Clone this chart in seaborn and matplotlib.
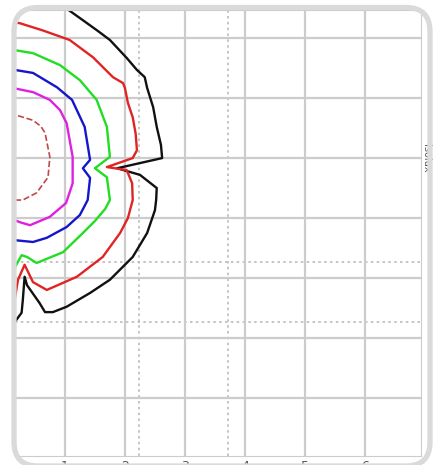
import matplotlib
matplotlib.use("Agg")
import matplotlib.pyplot as plt
import matplotlib.transforms as mtransforms
from matplotlib.patches import FancyBboxPatch
import seaborn as sns

# isolux contour traces (x, y in metres), outermost first
black_x = [0.95, 1.30, 1.55, 1.75, 2.03, 2.20, 2.33, 2.37, 2.47, 2.53, 2.60, 2.62, 1.87, 2.25, 2.53,
           2.52, 2.50, 2.37, 2.13, 1.75, 1.42, 1.03, 0.80, 0.67, 0.58, 0.37, 0.33, 0.30, 0.28, 0.17, 0.08]
black_y = [2.55, 2.30, 2.12, 1.97, 1.67, 1.47, 1.35, 1.17, 0.85, 0.52, 0.22, 0.00, -0.17, -0.28, -0.50,
           -0.70, -0.87, -1.25, -1.65, -2.03, -2.25, -2.48, -2.57, -2.57, -2.42, -2.12, -1.98, -2.37, -2.58, -2.73, -2.83]

red_x = [0.08, 0.25, 0.63, 1.08, 1.47, 1.80, 1.97, 2.00, 2.05, 2.13, 2.18, 2.20, 2.13, 1.70, 2.03,
         2.12, 2.13, 2.05, 1.92, 1.63, 1.20, 0.70, 0.47, 0.33, 0.22, 0.17, 0.12]
red_y = [2.27, 2.25, 2.13, 1.97, 1.68, 1.35, 1.25, 1.17, 0.92, 0.68, 0.40, 0.13, 0.00, -0.15, -0.20,
         -0.42, -0.70, -1.00, -1.25, -1.65, -1.98, -2.20, -2.07, -1.78, -2.03, -2.33, -2.45]

green_x = [0.08, 0.17, 0.47, 0.92, 1.25, 1.53, 1.70, 1.75, 1.50, 1.70, 1.75, 1.67, 1.50, 1.30, 0.97,
           0.53, 0.37, 0.28, 0.17, 0.08]
green_y = [1.80, 1.80, 1.75, 1.55, 1.30, 0.97, 0.52, 0.02, -0.17, -0.32, -0.70, -0.85, -1.05, -1.25, -1.57,
           -1.75, -1.65, -1.62, -1.82, -1.95]

blue_x = [0.08, 0.17, 0.47, 0.87, 1.12, 1.33, 1.42, 1.30, 1.42, 1.38, 1.25, 1.03, 0.70, 0.47, 0.17, 0.08]
blue_y = [1.47, 1.47, 1.42, 1.18, 0.97, 0.52, -0.03, -0.17, -0.33, -0.70, -0.95, -1.15, -1.33, -1.40, -1.37, -1.37]

magenta_x = [0.08, 0.47, 0.75, 0.92, 1.03, 1.13, 1.13, 1.02, 0.75, 0.42, 0.25, 0.08]
magenta_y = [1.18, 1.10, 0.97, 0.80, 0.58, 0.02, -0.42, -0.75, -0.98, -1.12, -1.07, -1.00]

inner_x = [0.08, 0.47, 0.60, 0.67, 0.75, 0.72, 0.53, 0.30, 0.08]
inner_y = [0.75, 0.63, 0.53, 0.42, 0.02, -0.32, -0.58, -0.70, -0.70]

x_ticks = [1, 2, 3, 4, 5, 6]
y_ticks = [-4, -3, -2, -1, 0, 1, 2]
dotted_x = [2.23, 3.72]
dotted_y = [-1.73, -2.73]

W, H = 442, 465
sns.set_style("whitegrid")
fig = plt.figure(figsize=(W / 100, H / 100), dpi=100)
fig.patch.set_facecolor("white")
ax = fig.add_axes([15 / W, 9 / H, 406 / W, 446 / H])

contours = [
    (black_x, black_y, "#111111", "-"),
    (red_x, red_y, "#e02424", "-"),
    (green_x, green_y, "#22dd22", "-"),
    (blue_x, blue_y, "#1515cc", "-"),
    (magenta_x, magenta_y, "#e020e0", "-"),
    (inner_x, inner_y, "#c04848", "--"),
]
for xs, ys, col, ls in contours:
    sns.lineplot(x=xs, y=ys, sort=False, estimator=None, color=col,
                 linestyle=ls, linewidth=1.7 if ls == "-" else 1.2, ax=ax)

for xv in dotted_x:
    ax.axvline(xv, color="#bbbbbb", linestyle=(0, (1.5, 2)), linewidth=1.2, zorder=0.5)
for yv in dotted_y:
    ax.axhline(yv, color="#bbbbbb", linestyle=(0, (1.5, 2)), linewidth=1.2, zorder=0.5)

ax.set_xlim(0.17, 6.93)
ax.set_ylim(-4.97, 2.47)
ax.set_xticks(x_ticks)
ax.set_yticks(y_ticks)
ax.set_xticklabels([str(t) for t in x_ticks])
ax.set_yticklabels([])
ax.tick_params(axis="x", length=0, pad=3, labelsize=9, labelcolor="#555555")
ax.tick_params(axis="y", length=0)
ax.grid(True, color="#cccccc", linewidth=1.6)
ax.set_axisbelow(True)
for sp in ax.spines.values():
    sp.set_color("#cccccc")
    sp.set_linewidth(0.8)

fig.text(426 / W, 1 - 158 / H, "Isolux", rotation=270, fontsize=7,
         color="#555555", ha="center", va="center")

# rounded frame around the whole picture, also used as a clip
frame = FancyBboxPatch((14, H - 466), 416, 458.5,
                       boxstyle="round,pad=0,rounding_size=24",
                       transform=mtransforms.IdentityTransform(),
                       facecolor="none", edgecolor="#dadada", linewidth=3.8, zorder=10)
fig.add_artist(frame)
for art in ax.lines + ax.get_xgridlines() + ax.get_ygridlines() + list(ax.spines.values()):
    art.set_clip_path(frame)

fig.savefig("out.png", dpi=100)
